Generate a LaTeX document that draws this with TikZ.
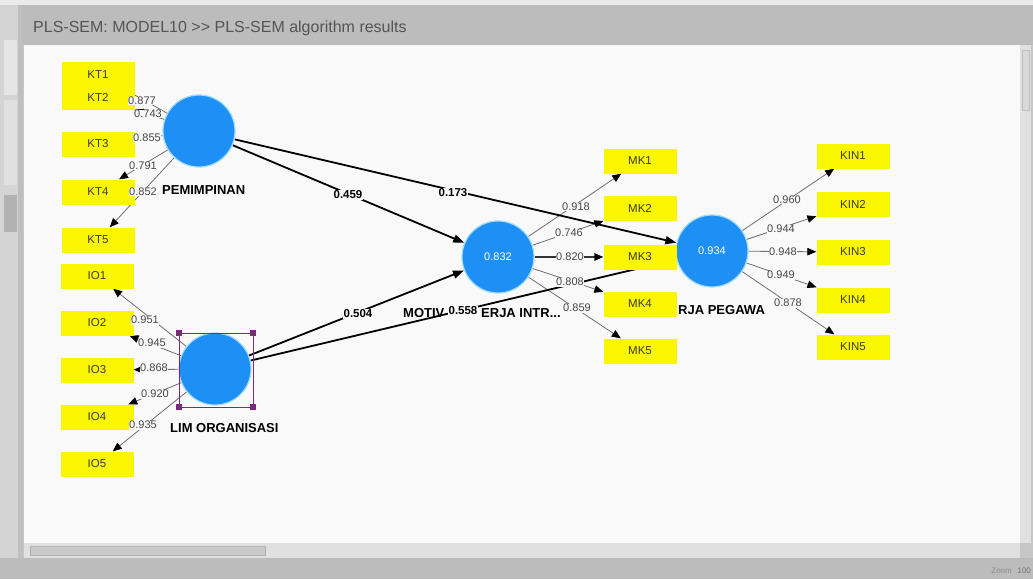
\documentclass[tikz,border=0pt]{standalone}
\usepackage{tikz}
\usepackage{fontspec}
\setmainfont{Liberation Sans}
\usetikzlibrary{arrows.meta,calc}
\pgfdeclarelayer{chrome}
\pgfdeclarelayer{edges}
\pgfsetlayers{chrome,edges,main}

\definecolor{outergray}{RGB}{198,198,198}
\definecolor{titlebar}{RGB}{188,188,188}
\definecolor{titletext}{RGB}{85,85,85}
\definecolor{sidepanel}{RGB}{212,212,212}
\definecolor{canvas}{RGB}{249,249,249}
\definecolor{track}{RGB}{224,224,224}
\definecolor{thumb}{RGB}{201,201,201}
\definecolor{boxyellow}{RGB}{250,246,0}
\definecolor{boxtext}{RGB}{60,60,40}
\definecolor{lvblue}{RGB}{30,144,245}
\definecolor{lvhalo}{RGB}{160,220,255}
\definecolor{loadgray}{RGB}{110,110,110}
\definecolor{labgray}{RGB}{70,70,70}
\definecolor{selpurple}{RGB}{125,40,125}

\begin{document}
\begin{tikzpicture}[x=1pt,y=-1pt,
  ind/.style={fill=boxyellow, minimum width=73pt, minimum height=25pt, inner sep=0pt,
              font=\fontsize{11.5}{12}\selectfont, text=boxtext},
  lv/.style={circle, fill=lvblue, draw=lvhalo, line width=1.2pt, minimum size=72pt,
             inner sep=0pt, text=white, font=\fontsize{11}{12}\selectfont},
  load/.style={draw=loadgray, line width=0.8pt, -{Triangle[length=9pt,width=7.5pt,color=black]}},
  pathc/.style={draw=black, line width=1.8pt, -{Triangle[length=11pt,width=8pt]}},
  lab/.style={fill=canvas, inner sep=0.6pt, font=\fontsize{11}{12}\selectfont, text=labgray},
  plab/.style={fill=canvas, inner sep=0.6pt, font=\fontsize{11.5}{12}\selectfont\bfseries},
  lvname/.style={inner sep=0pt, anchor=west, font=\fontsize{13}{14}\selectfont\bfseries},
  handle/.style={fill=selpurple, minimum size=6pt, inner sep=0pt}
]
\useasboundingbox (0,0) rectangle (1033,579);

% window frame, title bar and scroll bars
\begin{pgfonlayer}{chrome}
  \fill[outergray] (0,0) rectangle (1033,579);
  \fill[black!8] (0,0) rectangle (1033,5);
  \fill[titlebar] (22,5) rectangle (1033,45);
  \fill[sidepanel] (0,5) rectangle (18,579);
  \fill[black!10] (4,40) rectangle (17,95);
  \fill[black!12] (4,100) rectangle (17,185);
  \fill[black!30] (4,195) rectangle (17,232);
  \fill[black!25] (18,5) rectangle (23,579);
  \fill[canvas] (24,45) rectangle (1020,543);
  \fill[track] (24,543) rectangle (1020,558);
  \filldraw[fill=thumb, draw=black!30] (30,546) rectangle (265,555);
  \fill[track] (1020,45) rectangle (1031,543);
  \filldraw[fill=black!15, draw=black!25] (1022,50) rectangle (1029,110);
  \fill[titlebar] (0,558) rectangle (1033,579);
  \node[anchor=west, inner sep=0pt, font=\fontsize{16}{18}\selectfont, text=titletext] (title)
    at (33,28) {PLS-SEM: MODEL10 >{}> PLS-SEM algorithm results};
  \node[anchor=east, inner sep=0pt, font=\fontsize{8}{9}\selectfont, text=black!45] (zoomlbl)
    at (1012,571) {Zoom};
  \node[anchor=east, inner sep=0pt, font=\fontsize{8}{9}\selectfont, text=black!55] (zoomval)
    at (1031,571) {100};
\end{pgfonlayer}

% latent variables
\node[lv] (kep) at (199,131) {};
\node[lv] (ikl) at (215,369) {};
\node[lv] (mot) at (498,257) {0.832};
\node[lv] (kin) at (712,251) {0.934};

% selection frame around the highlighted construct
\draw[selpurple, line width=0.7pt] (179,333) rectangle (253,407);
\node[handle] (h1) at (179,333) {};
\node[handle] (h2) at (253,333) {};
\node[handle] (h3) at (179,407) {};
\node[handle] (h4) at (253,407) {};

% indicators
\node[ind] (kt1) at (98,74.5) {KT1};
\node[ind] (kt2) at (98,97.5) {KT2};
\node[ind] (kt3) at (98,144) {KT3};
\node[ind] (kt4) at (98,192) {KT4};
\node[ind] (kt5) at (98,240) {KT5};

\node[ind] (io1) at (97,276) {IO1};
\node[ind] (io2) at (97,323) {IO2};
\node[ind] (io3) at (97,370) {IO3};
\node[ind] (io4) at (97,417) {IO4};
\node[ind] (io5) at (97,464) {IO5};

\node[ind] (mk1) at (640,161) {MK1};
\node[ind] (mk2) at (640,208.5) {MK2};
\node[ind] (mk3) at (640,257) {MK3};
\node[ind] (mk4) at (640,304) {MK4};
\node[ind] (mk5) at (640,351) {MK5};

\node[ind] (kin1) at (853,156) {KIN1};
\node[ind] (kin2) at (853,204) {KIN2};
\node[ind] (kin3) at (853,252) {KIN3};
\node[ind] (kin4) at (853,300) {KIN4};
\node[ind] (kin5) at (853,347) {KIN5};

% connectors
\begin{pgfonlayer}{edges}
  \foreach \t in {kt1,kt2,kt3,kt4,kt5} \draw[load] (kep) -- (\t);
  \foreach \t in {io1,io2,io3,io4,io5} \draw[load] (ikl) -- (\t);
  \foreach \t in {mk1,mk2,mk4,mk5} \draw[load] (mot) -- (\t);
  \draw[load, line width=1.4pt, draw=black!80] (mot) -- (mk3);
  \foreach \t in {kin1,kin2,kin3,kin4,kin5} \draw[load] (kin) -- (\t);
  \draw[pathc] (kep) -- (mot);
  \draw[pathc] (kep) -- (kin);
  \draw[pathc] (ikl) -- (mot);
  \draw[pathc] (ikl) -- (kin);
\end{pgfonlayer}

% outer loadings
\node[lab] (l-kt1) at (142,101) {0.877};
\node[lab] (l-kt2) at (148,114) {0.743};
\node[lab] (l-kt3) at (147,138) {0.855};
\node[lab] (l-kt4) at (143,166) {0.791};
\node[lab] (l-kt5) at (143,192) {0.852};

\node[lab] (l-io1) at (145,320) {0.951};
\node[lab] (l-io2) at (152,343) {0.945};
\node[lab] (l-io3) at (154,368) {0.868};
\node[lab] (l-io4) at (155,394) {0.920};
\node[lab] (l-io5) at (143,425) {0.935};

\node[lab] (l-mk1) at (576,207) {0.918};
\node[lab] (l-mk2) at (569,233) {0.746};
\node[lab] (l-mk3) at (570,257) {0.820};
\node[lab] (l-mk4) at (570,282) {0.808};
\node[lab] (l-mk5) at (577,308) {0.859};

\node[lab] (l-kin1) at (787,200) {0.960};
\node[lab] (l-kin2) at (781,229) {0.944};
\node[lab] (l-kin3) at (783,252) {0.948};
\node[lab] (l-kin4) at (781,275) {0.949};
\node[lab] (l-kin5) at (788,303) {0.878};

% construct names
\node[lvname] (n-kep) at (162,190) {PEMIMPINAN};
\node[lvname] (n-ikl) at (170,428) {LIM ORGANISASI};
\node[lvname] (n-mot1) at (403,313) {MOTIV};
\node[lvname] (n-mot2) at (481,313) {ERJA INTR...};
\node[lvname] (n-kin) at (678,310) {RJA PEGAWA};

% path coefficients
\node[plab] (p1) at (348,195) {0.459};
\node[plab] (p2) at (453,193) {0.173};
\node[plab] (p3) at (358,314) {0.504};
\node[plab] (p4) at (463,311) {0.558};
\end{tikzpicture}
\end{document}
